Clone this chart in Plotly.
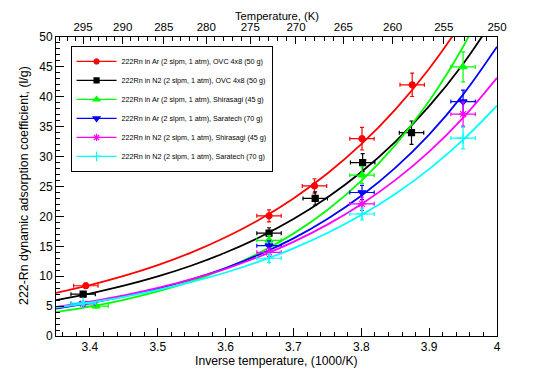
import plotly.graph_objects as go

# inverse temperature grid for the fitted curves, (1000/K)
inv_temp_grid = [3.35, 3.40, 3.45, 3.50, 3.55, 3.60, 3.65, 3.70, 3.75, 3.80, 3.85, 3.90, 3.95, 4.00]

# fitted curves, (l/g)
fit_ar_ovc = [7.20, 8.50, 10.04, 11.85, 13.99, 16.51, 19.49, 23.01, 27.17, 32.08, 37.87, 44.70, 52.8, 62.3]
fit_n2_ovc = [6.00, 7.10, 8.41, 9.96, 11.79, 13.96, 16.52, 19.56, 23.16, 27.42, 32.46, 38.43, 45.50, 53.87]
fit_ar_shira = [4.00, 4.92, 6.06, 7.46, 9.18, 11.30, 13.91, 17.12, 21.07, 25.94, 31.93, 39.30, 48.37, 59.54]
fit_ar_sara = [4.60, 5.51, 6.61, 7.92, 9.49, 11.37, 13.63, 16.33, 19.57, 23.45, 28.11, 33.68, 40.37, 48.37]
fit_n2_shira = [4.85, 5.74, 6.79, 8.03, 9.50, 11.24, 13.30, 15.74, 18.62, 22.03, 26.06, 30.84, 36.48, 43.16]
fit_n2_sara = [4.75, 5.58, 6.55, 7.70, 9.04, 10.62, 12.48, 14.66, 17.22, 20.23, 23.76, 27.91, 32.79, 38.51]

# measured points
x_ar_ovc = [3.394, 3.664, 3.731, 3.801, 3.875]
y_ar_ovc = [8.4, 20.1, 25.1, 33.0, 42.0]
ey_ar_ovc = [0.45, 1.0, 1.2, 1.9, 1.95]

x_n2_ovc = [3.390, 3.664, 3.732, 3.802, 3.874]
y_n2_ovc = [7.0, 17.2, 23.0, 29.0, 34.0]
ey_n2_ovc = [0.4, 0.9, 1.1, 1.5, 1.95]

x_ar_shira = [3.409, 3.664, 3.801, 3.950]
y_ar_shira = [5.0, 16.0, 26.9, 45.0]
ey_ar_shira = [0.3, 0.8, 1.4, 2.5]

x_ar_sara = [3.390, 3.664, 3.801, 3.950]
y_ar_sara = [5.4, 15.1, 24.0, 39.2]
ey_ar_sara = [0.3, 0.8, 1.2, 1.9]

x_n2_shira = [3.390, 3.664, 3.801, 3.950]
y_n2_shira = [5.4, 14.0, 22.1, 37.1]
ey_n2_shira = [0.3, 0.7, 1.1, 2.0]

x_n2_sara = [3.390, 3.664, 3.801, 3.950]
y_n2_sara = [5.5, 13.0, 20.4, 33.1]
ey_n2_sara = [0.3, 0.7, 1.0, 1.8]

ex_all = 0.018

names = [
    "222Rn in Ar (2 slpm, 1 atm), OVC 4x8 (50 g)",
    "222Rn in N2 (2 slpm, 1 atm), OVC 4x8 (50 g)",
    "222Rn in Ar (2 slpm, 1 atm), Shirasagi (45 g)",
    "222Rn in Ar (2 slpm, 1 atm), Saratech (70 g)",
    "222Rn in N2 (2 slpm, 1 atm), Shirasagi (45 g)",
    "222Rn in N2 (2 slpm, 1 atm), Saratech (70 g)",
]

# top axis: temperature labels (K)
temp_labels = [295, 290, 285, 280, 275, 270, 265, 260, 255, 250]
temp_minor = list(range(250, 299))

series = [
    (x_ar_ovc, y_ar_ovc, ey_ar_ovc, fit_ar_ovc, "#ff0000", "circle", 6),
    (x_n2_ovc, y_n2_ovc, ey_n2_ovc, fit_n2_ovc, "#000000", "square", 6),
    (x_ar_shira, y_ar_shira, ey_ar_shira, fit_ar_shira, "#00ff00", "triangle-up", 7),
    (x_ar_sara, y_ar_sara, ey_ar_sara, fit_ar_sara, "#0000ff", "triangle-down", 7),
    (x_n2_shira, y_n2_shira, ey_n2_shira, fit_n2_shira, "#ff00ff", "asterisk-open", 7),
    (x_n2_sara, y_n2_sara, ey_n2_sara, fit_n2_sara, "#00ffff", "cross-thin-open", 8),
]

fig = go.Figure()

for (xs, ys, eys, fit, color, symbol, msize), name in zip(series, names):
    marker = dict(color=color, symbol=symbol, size=msize, line=dict(color=color, width=1.2))
    fig.add_trace(go.Scatter(
        x=inv_temp_grid, y=fit, mode="lines", line=dict(color=color, width=1.8, shape="spline"),
        showlegend=False, hoverinfo="skip"
    ))
    fig.add_trace(go.Scatter(
        x=xs, y=ys, mode="markers", marker=marker, showlegend=False,
        error_x=dict(type="constant", value=ex_all, color=color, thickness=1.2, width=2),
        error_y=dict(type="data", array=eys, color=color, thickness=1.2, width=2),
    ))
    # legend entry (line + marker like the ROOT legend)
    legend_marker = dict(marker, size=max(msize - 1, 5))
    fig.add_trace(go.Scatter(
        x=[None], y=[None], mode="lines+markers", name=name,
        line=dict(color=color, width=1.2), marker=legend_marker
    ))

# dummy trace to carry the top axis
fig.add_trace(go.Scatter(x=[None], y=[None], xaxis="x2", showlegend=False))

font = "Liberation Sans, Arial, sans-serif"

# the page adds an 8px body margin, so the figure is a bit smaller than the window
fig.update_layout(
    width=545, height=366,
    margin=dict(l=48, r=56, t=29, b=38),
    paper_bgcolor="white", plot_bgcolor="white",
    font=dict(family=font, size=12, color="black"),
    xaxis=dict(
        range=[3.35, 4.0], showgrid=False, zeroline=False,
        showline=True, linecolor="black", linewidth=1,
        ticks="inside", ticklen=8, tickcolor="black",
        tickvals=[3.4, 3.5, 3.6, 3.7, 3.8, 3.9, 4.0],
        ticktext=["3.4", "3.5", "3.6", "3.7", "3.8", "3.9", "4"],
        minor=dict(ticks="inside", ticklen=4, dtick=0.02, tick0=3.4, tickcolor="black", showgrid=False),
    ),
    xaxis2=dict(
        overlaying="x", side="top", range=[3.35, 4.0], showgrid=False, zeroline=False,
        showline=True, linecolor="black", linewidth=1,
        ticks="inside", ticklen=7, tickcolor="black", tickfont=dict(size=11.5),
        tickvals=[1000 / t for t in temp_labels],
        ticktext=[str(t) for t in temp_labels],
        minor=dict(ticks="inside", ticklen=4, tickvals=[1000 / t for t in temp_minor],
                   tickcolor="black", showgrid=False),
    ),
    yaxis=dict(
        range=[0, 50], showgrid=False, zeroline=False,
        showline=True, mirror=True, linecolor="black", linewidth=1,
        ticks="inside", ticklen=8, tickcolor="black", dtick=5,
        minor=dict(ticks="inside", ticklen=4, dtick=1, tickcolor="black", showgrid=False),
    ),
    legend=dict(
        x=0.033, y=0.97, xanchor="left", yanchor="top",
        bgcolor="white", bordercolor="black", borderwidth=1,
        font=dict(family=font, size=7.2), itemwidth=40, tracegroupgap=0,
    ),
    annotations=[
        dict(text="Inverse temperature, (1000/K)", xref="paper", yref="paper",
             x=0.5, y=-0.082, xanchor="center", yanchor="middle", showarrow=False,
             font=dict(size=12.2)),
        dict(text="222-Rn dynamic adsorption coefficient, (l/g)", xref="paper", yref="paper",
             x=-0.0726, y=0.505, xanchor="center", yanchor="middle", textangle=-90, showarrow=False,
             font=dict(size=12.4)),
        dict(text="Temperature, (K)", xref="paper", yref="paper",
             x=0.5, y=1.097, xanchor="center", yanchor="top", showarrow=False,
             font=dict(size=11.2)),
    ],
)

fig.write_html("out.html")
